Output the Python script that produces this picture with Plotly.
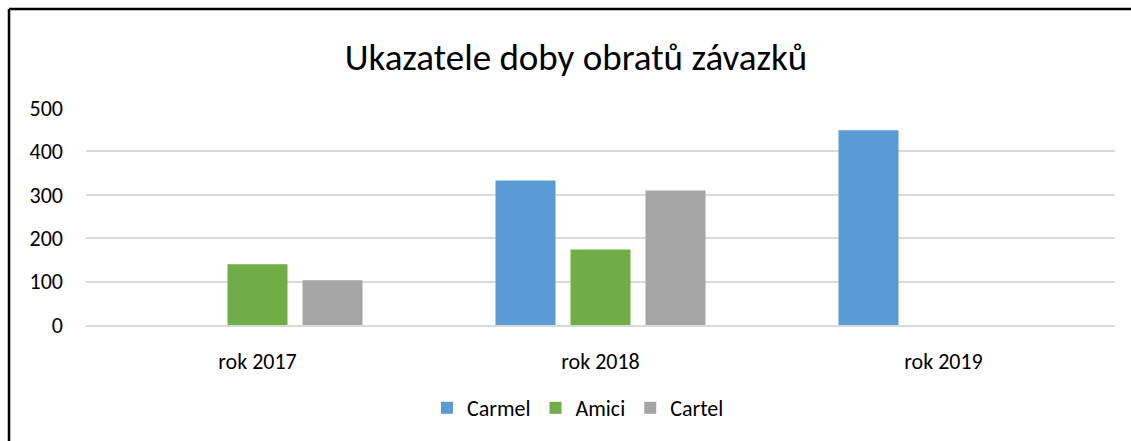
import plotly.graph_objects as go

categories = ["rok 2017", "rok 2018", "rok 2019"]
carmel = [None, 333, 449]
amici = [140, 174, None]
cartel = [103, 310, None]
y_ticks = [0, 100, 200, 300, 400, 500]

FONT = "Carlito, Calibri, Lato, sans-serif"
W, H = 1131, 441
# target pixel positions of the plot area in the window
PL, PR, PT, PB = 86, 1115, 108, 325
L, T = PL, PT
R = W - PR
B = H - PB
pw, ph = PR - PL, PB - PT

def px_x(v):
    return (v - PL) / pw

def px_y(v):
    return (PB - v) / ph

fig = go.Figure()
for name, vals, col in [("Carmel", carmel, "#5B9BD5"),
                        ("Amici", amici, "#70AD47"),
                        ("Cartel", cartel, "#A5A5A5")]:
    fig.add_trace(go.Bar(name=name, x=categories, y=vals, marker_color=col,
                         marker_line_width=0))

fig.update_layout(
    width=W, height=H,
    margin=dict(l=L, r=R, t=T, b=B),
    paper_bgcolor="white", plot_bgcolor="white",
    barmode="group", bargap=0.344, bargroupgap=0.2,
    font=dict(family=FONT, size=22, color="#000000"),
    title=dict(text="Ukazatele doby obratů závazků",
               x=576 / W, xanchor="center", xref="container",
               y=1 - 57 / H, yanchor="middle", yref="container",
               font=dict(family=FONT, size=37, color="#000000")),
    legend=dict(orientation="h", x=px_x(578), xanchor="center",
                y=px_y(408), yanchor="middle", font=dict(size=22),
                tracegroupgap=0),
    showlegend=True,
)
fig.update_yaxes(range=[0, 500], tickvals=y_ticks, showgrid=True,
                 gridcolor="#D9D9D9", gridwidth=1.5, zeroline=False,
                 showline=False, ticks="", ticklabelstandoff=22,
                 tickfont=dict(size=22))
fig.update_xaxes(showgrid=False, showline=True, linecolor="#D9D9D9",
                 linewidth=1.5, ticks="", ticklabelstandoff=16,
                 tickfont=dict(size=22))

# chart-area frame: left and top edges (right and bottom fall outside the picture)
border = dict(color="#000000", width=2.5)
fig.add_shape(type="line", xref="paper", yref="paper",
              x0=px_x(9), x1=px_x(9), y0=px_y(470), y1=px_y(9),
              line=border, layer="above")
fig.add_shape(type="line", xref="paper", yref="paper",
              x0=px_x(9), x1=px_x(1200), y0=px_y(9), y1=px_y(9),
              line=border, layer="above")

fig.write_html(
    "out.html",
    config={"displayModeBar": False},
    post_script="document.body.style.margin='0';document.body.style.overflow='hidden';",
)
